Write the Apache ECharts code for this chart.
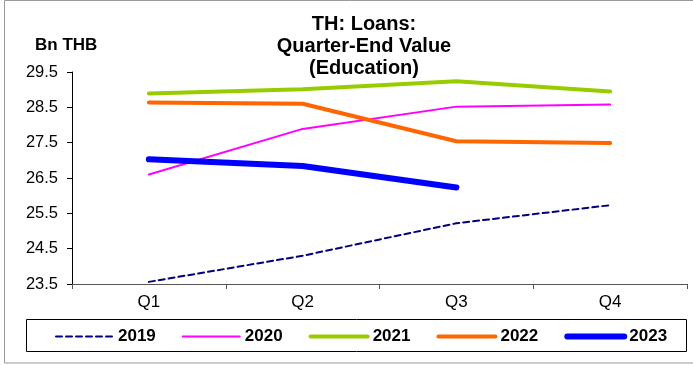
<!DOCTYPE html>
<html>
<head>
<meta charset="utf-8">
<script src="https://cdn.jsdelivr.net/npm/echarts@6/dist/echarts.min.js"></script>
<style>html,body{margin:0;padding:0;background:#fff}#c{width:693px;height:365px}</style>
</head>
<body>
<div id="c"></div>
<script>
const categories = ['Q1', 'Q2', 'Q3', 'Q4'];
const seriesNames = ['2019', '2020', '2021', '2022', '2023'];
const y2019 = [23.56, 24.30, 25.22, 25.73];
const y2020 = [26.60, 27.89, 28.52, 28.58];
const y2021 = [28.89, 29.01, 29.24, 28.95];
const y2022 = [28.64, 28.60, 27.54, 27.49];
const y2023 = [27.03, 26.84, 26.23];
const yTicks = { min: 23.5, max: 29.5, interval: 1 };

const FONT = '"Liberation Sans", Arial, sans-serif';
const styles = {
  '2019': { color: '#000080', width: 2, type: [6, 4] },
  '2020': { color: '#FF00FF', width: 2, type: 'solid' },
  '2021': { color: '#99CC00', width: 4, type: 'solid' },
  '2022': { color: '#FF6600', width: 4, type: 'solid' },
  '2023': { color: '#0000FF', width: 6, type: 'solid' }
};
const dataMap = { '2019': y2019, '2020': y2020, '2021': y2021, '2022': y2022, '2023': y2023 };

const chart = echarts.init(document.getElementById('c'));
chart.setOption({
  animation: false,
  backgroundColor: '#fff',
  textStyle: { fontFamily: FONT },
  title: {
    text: 'TH: Loans:\nQuarter-End Value\n(Education)',
    left: 359, top: 8, textAlign: 'center',
    textStyle: { fontFamily: FONT, fontSize: 20, fontWeight: 'bold', color: '#000', lineHeight: 22 }
  },
  graphic: [
    { type: 'rect', shape: { x: 4.5, y: 0.5, width: 720, height: 362.5 }, style: { fill: 'none', stroke: '#999', lineWidth: 1 }, silent: true },
    { type: 'rect', shape: { x: 26.5, y: 319.5, width: 660, height: 32 }, style: { fill: 'none', stroke: '#000', lineWidth: 1 }, silent: true },
    { type: 'text', left: 35, top: 37, style: { text: 'Bn THB', font: 'bold 17px ' + FONT, fill: '#000' } }
  ],
  legend: {
    left: 55, top: 328, itemWidth: 57, itemHeight: 14, itemGap: 26, padding: 0,
    textStyle: { fontFamily: FONT, fontSize: 17, fontWeight: 'bold', color: '#000' },
    data: seriesNames.map(n => ({
      name: n,
      itemStyle: { opacity: 0 },
      lineStyle: { color: styles[n].color, width: styles[n].width, type: styles[n].type, opacity: 1, cap: 'round' }
    }))
  },
  grid: { left: 72, right: 6, top: 72, bottom: 81, containLabel: false },
  xAxis: {
    type: 'category', data: categories, boundaryGap: true,
    axisLine: { lineStyle: { color: '#555', width: 1 } },
    axisTick: { show: true, length: 5, inside: false, lineStyle: { color: '#555' } },
    axisLabel: { fontFamily: FONT, fontSize: 17, color: '#000', margin: 10 },
    splitLine: { show: false }
  },
  yAxis: {
    type: 'value', min: yTicks.min, max: yTicks.max, interval: yTicks.interval,
    axisLine: { show: true, lineStyle: { color: '#000', width: 1 } },
    axisTick: { show: true, length: 5, inside: false, lineStyle: { color: '#000' } },
    axisLabel: { fontFamily: FONT, fontSize: 16.5, color: '#000', margin: 14, formatter: v => v.toFixed(1) },
    splitLine: { show: false }
  },
  series: seriesNames.map(n => ({
    name: n, type: 'line', data: dataMap[n], symbol: 'none',
    lineStyle: { color: styles[n].color, width: styles[n].width, type: styles[n].type, cap: 'round', join: 'round' },
    itemStyle: { color: styles[n].color }
  }))
});
</script>
</body>
</html>
